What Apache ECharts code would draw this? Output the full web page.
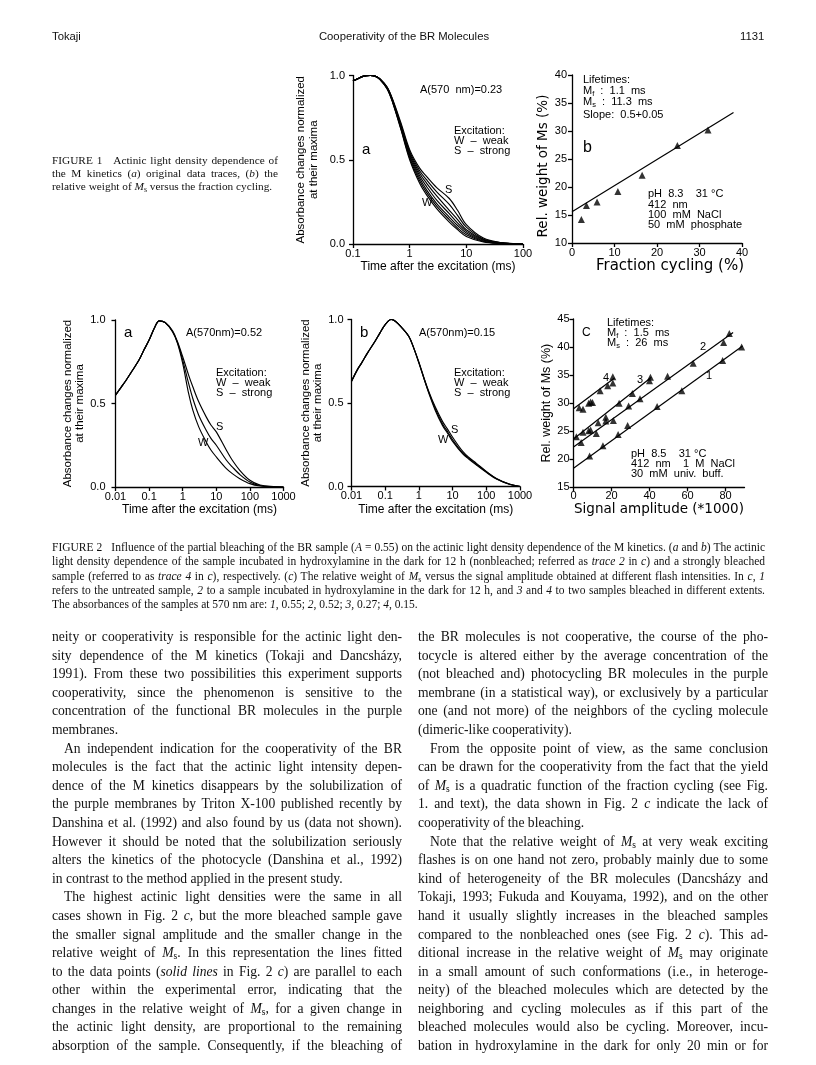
<!DOCTYPE html>
<html>
<head>
<meta charset="utf-8">
<script src="https://cdn.jsdelivr.net/npm/echarts/dist/echarts.min.js"></script>
<style>
  html, body { margin: 0; padding: 0; background: #fff; }
  #page { position: relative; width: 816px; height: 1065px; overflow: hidden; background: #fff; }
  #chart { position: absolute; left: 0; top: 0; width: 816px; height: 1065px; }
  .hdr { position: absolute; font: 11.3px "Liberation Sans", Arial, sans-serif; color: #111; top: 30px; }
  .cap { position: absolute; font-family: "Liberation Serif", "Times New Roman", serif; color: #111; }
  .col { position: absolute; width: 350px; font-family: "Liberation Serif", "Times New Roman", serif; font-size: 13.6px; line-height: 18.6px; color: #111; }
  .j { text-align: justify; text-align-last: justify; white-space: nowrap; }
  .l { text-align: left; white-space: nowrap; }
  .ind { text-indent: 12px; }
  .sb { font-size: 70%; vertical-align: -0.25em; line-height: 0; }
</style>
</head>
<body>
<div id="page">
  <div id="chart"></div>

  <div class="hdr" style="left:52px">Tokaji</div>
  <div class="hdr" style="left:0;width:808px;text-align:center">Cooperativity of the BR Molecules</div>
  <div class="hdr" style="left:740px">1131</div>

  <div class="cap" style="left:52px;top:153.5px;width:226px;font-size:11.3px;line-height:13px">
    <div class="j">FIGURE 1&nbsp;&nbsp; Actinic light density dependence of</div>
    <div class="j">the M kinetics (<i>a</i>) original data traces, (<i>b</i>) the</div>
    <div class="l">relative weight of <i>M</i><span class="sb">s</span> versus the fraction cycling.</div>
  </div>

  <div class="cap" style="left:52px;top:540px;width:713px;font-size:11.5px;line-height:14.3px">
    <div class="j">FIGURE 2&nbsp;&nbsp; Influence of the partial bleaching of the BR sample (<i>A</i> = 0.55) on the actinic light density dependence of the M kinetics. (<i>a</i> and <i>b</i>) The actinic</div>
    <div class="j">light density dependence of the sample incubated in hydroxylamine in the dark for 12 h (nonbleached; referred as <i>trace 2</i> in <i>c</i>) and a strongly bleached</div>
    <div class="j">sample (referred to as <i>trace 4</i> in <i>c</i>), respectively. (<i>c</i>) The relative weight of <i>M</i><span class="sb">s</span> versus the signal amplitude obtained at different flash intensities. In <i>c</i>, <i>1</i></div>
    <div class="j">refers to the untreated sample, <i>2</i> to a sample incubated in hydroxylamine in the dark for 12 h, and <i>3</i> and <i>4</i> to two samples bleached in different extents.</div>
    <div class="l">The absorbances of the samples at 570 nm are: <i>1</i>, 0.55; <i>2</i>, 0.52; <i>3</i>, 0.27; <i>4</i>, 0.15.</div>
  </div>

  <div class="col" style="left:52px;top:628px">
    <div class="j">neity or cooperativity is responsible for the actinic light den-</div>
    <div class="j">sity dependence of the M kinetics (Tokaji and Dancsházy,</div>
    <div class="j">1991). From these two possibilities this experiment supports</div>
    <div class="j">cooperativity, since the phenomenon is sensitive to the</div>
    <div class="j">concentration of the functional BR molecules in the purple</div>
    <div class="l">membranes.</div>
    <div class="j ind">An independent indication for the cooperativity of the BR</div>
    <div class="j">molecules is the fact that the actinic light intensity depen-</div>
    <div class="j">dence of the M kinetics disappears by the solubilization of</div>
    <div class="j">the purple membranes by Triton X-100 published recently by</div>
    <div class="j">Danshina et al. (1992) and also found by us (data not shown).</div>
    <div class="j">However it should be noted that the solubilization seriously</div>
    <div class="j">alters the kinetics of the photocycle (Danshina et al., 1992)</div>
    <div class="l">in contrast to the method applied in the present study.</div>
    <div class="j ind">The highest actinic light densities were the same in all</div>
    <div class="j">cases shown in Fig. 2 <i>c</i>, but the more bleached sample gave</div>
    <div class="j">the smaller signal amplitude and the smaller change in the</div>
    <div class="j">relative weight of <i>M</i><span class="sb">s</span>. In this representation the lines fitted</div>
    <div class="j">to the data points (<i>solid lines</i> in Fig. 2 <i>c</i>) are parallel to each</div>
    <div class="j">other within the experimental error, indicating that the</div>
    <div class="j">changes in the relative weight of <i>M</i><span class="sb">s</span>, for a given change in</div>
    <div class="j">the actinic light density, are proportional to the remaining</div>
    <div class="j">absorption of the sample. Consequently, if the bleaching of</div>
  </div>

  <div class="col" style="left:418px;top:628px">
    <div class="j">the BR molecules is not cooperative, the course of the pho-</div>
    <div class="j">tocycle is altered either by the average concentration of the</div>
    <div class="j">(not bleached and) photocycling BR molecules in the purple</div>
    <div class="j">membrane (in a statistical way), or exclusively by a particular</div>
    <div class="j">one (and not more) of the neighbors of the cycling molecule</div>
    <div class="l">(dimeric-like cooperativity).</div>
    <div class="j ind">From the opposite point of view, as the same conclusion</div>
    <div class="j">can be drawn for the cooperativity from the fact that the yield</div>
    <div class="j">of <i>M</i><span class="sb">s</span> is a quadratic function of the fraction cycling (see Fig.</div>
    <div class="j">1. and text), the data shown in Fig. 2 <i>c</i> indicate the lack of</div>
    <div class="l">cooperativity of the bleaching.</div>
    <div class="j ind">Note that the relative weight of <i>M</i><span class="sb">s</span> at very weak exciting</div>
    <div class="j">flashes is on one hand not zero, probably mainly due to some</div>
    <div class="j">kind of heterogeneity of the BR molecules (Dancsházy and</div>
    <div class="j">Tokaji, 1993; Fukuda and Kouyama, 1992), and on the other</div>
    <div class="j">hand it usually slightly increases in the bleached samples</div>
    <div class="j">compared to the nonbleached ones (see Fig. 2 <i>c</i>). This ad-</div>
    <div class="j">ditional increase in the relative weight of <i>M</i><span class="sb">s</span> may originate</div>
    <div class="j">in a small amount of such conformations (i.e., in heteroge-</div>
    <div class="j">neity) of the bleached molecules which are detected by the</div>
    <div class="j">neighboring and cycling molecules as if this part of the</div>
    <div class="j">bleached molecules would also be cycling. Moreover, incu-</div>
    <div class="j">bation in hydroxylamine in the dark for only 20 min or for</div>
  </div>
</div>

<script>
// squeeze any text line that is wider than its column
document.querySelectorAll('.j, .l').forEach(el => {
  const over = el.scrollWidth - el.clientWidth;
  if (over > 0) {
    el.style.letterSpacing = (-(over + 1) / el.textContent.length).toFixed(3) + 'px';
  }
});

// ---- data ----
// Fig 1a: time axis (ms) and normalized absorbance traces, weak -> strong
const t1a = [0.1, 0.12, 0.15, 0.2, 0.25, 0.3, 0.4, 0.5, 0.7, 1, 1.5, 2, 3, 5, 7, 10, 20, 40, 100];
const fig1aW  = [0.968, 0.98, 0.995, 1.0, 0.995, 0.975, 0.92, 0.84, 0.68, 0.50, 0.36, 0.29, 0.21, 0.13, 0.085, 0.045, 0.012, 0.003, 0];
const fig1a2  = [0.968, 0.98, 0.995, 1.0, 0.995, 0.976, 0.922, 0.843, 0.685, 0.51, 0.375, 0.305, 0.225, 0.145, 0.095, 0.055, 0.015, 0.004, 0];
const fig1a3  = [0.968, 0.98, 0.995, 1.0, 0.995, 0.977, 0.924, 0.846, 0.69, 0.52, 0.39, 0.32, 0.24, 0.16, 0.11, 0.065, 0.018, 0.005, 0];
const fig1a4  = [0.968, 0.98, 0.995, 1.0, 0.995, 0.978, 0.926, 0.849, 0.695, 0.53, 0.405, 0.34, 0.26, 0.18, 0.125, 0.075, 0.022, 0.006, 0];
const fig1a5  = [0.968, 0.98, 0.995, 1.0, 0.995, 0.979, 0.928, 0.852, 0.70, 0.54, 0.42, 0.36, 0.285, 0.20, 0.145, 0.085, 0.026, 0.007, 0];
const fig1a6  = [0.968, 0.98, 0.995, 1.0, 0.995, 0.98, 0.93, 0.855, 0.71, 0.55, 0.435, 0.38, 0.31, 0.235, 0.17, 0.10, 0.03, 0.008, 0];
const fig1aS  = [0.968, 0.98, 0.995, 1.0, 0.995, 0.98, 0.932, 0.86, 0.72, 0.56, 0.45, 0.40, 0.335, 0.27, 0.20, 0.115, 0.035, 0.009, 0];

// Fig 1b: relative weight of Ms vs fraction cycling
const fig1bX = [2.2, 3.4, 5.9, 10.8, 16.5, 24.8, 32.0];
const fig1bY = [14.2, 16.7, 17.3, 19.2, 22.1, 27.4, 30.2];
const fig1bFitX = [0, 38];
const fig1bFitY = [15.6, 33.3];

// Fig 2a / 2b: time axis (ms) and traces W, middle, S
const t2 = [0.01, 0.015, 0.02, 0.03, 0.05, 0.07, 0.1, 0.15, 0.2, 0.3, 0.5, 0.7, 1, 1.5, 2, 3, 5, 7, 10, 20, 30, 50, 100, 200, 500, 1000];
const fig2aW = [0.55, 0.60, 0.635, 0.69, 0.76, 0.82, 0.88, 0.96, 0.995, 0.985, 0.93, 0.86, 0.74, 0.56, 0.46, 0.36, 0.27, 0.22, 0.18, 0.11, 0.08, 0.05, 0.02, 0.006, 0.001, 0];
const fig2aM = [0.55, 0.60, 0.635, 0.69, 0.76, 0.82, 0.88, 0.96, 0.995, 0.985, 0.93, 0.865, 0.76, 0.62, 0.53, 0.43, 0.34, 0.29, 0.25, 0.16, 0.12, 0.075, 0.03, 0.009, 0.001, 0];
const fig2aS = [0.55, 0.60, 0.635, 0.69, 0.76, 0.82, 0.88, 0.96, 0.995, 0.985, 0.935, 0.87, 0.78, 0.67, 0.60, 0.51, 0.42, 0.37, 0.33, 0.22, 0.16, 0.10, 0.04, 0.012, 0.002, 0];
const fig2bW = [0.63, 0.70, 0.74, 0.80, 0.87, 0.92, 0.97, 1.0, 0.99, 0.955, 0.90, 0.83, 0.74, 0.63, 0.555, 0.46, 0.365, 0.32, 0.27, 0.195, 0.165, 0.13, 0.085, 0.045, 0.012, 0];
const fig2bM = [0.63, 0.70, 0.74, 0.80, 0.87, 0.92, 0.97, 1.0, 0.99, 0.955, 0.90, 0.83, 0.74, 0.632, 0.56, 0.47, 0.375, 0.33, 0.28, 0.20, 0.17, 0.135, 0.088, 0.047, 0.013, 0];
const fig2bS = [0.63, 0.70, 0.74, 0.80, 0.87, 0.92, 0.97, 1.0, 0.99, 0.955, 0.90, 0.83, 0.745, 0.635, 0.565, 0.48, 0.39, 0.345, 0.295, 0.21, 0.175, 0.14, 0.09, 0.048, 0.013, 0];

// Fig 2c: relative weight of Ms vs signal amplitude, traces 1-4
const c1X = [8.5, 15.5, 23.5, 28.5, 44, 57, 78.5, 88.5];
const c1Y = [20.6, 22.4, 24.4, 26.0, 29.4, 32.2, 37.6, 40.0];
const c2X = [4, 8, 12, 17, 21, 29, 35, 49.5, 63, 79, 82];
const c2Y = [23.0, 25.1, 24.6, 26.8, 26.9, 29.5, 30.8, 34.8, 37.1, 40.8, 42.4];
const c3X = [1.5, 5, 9, 13, 17, 24, 31, 40, 40.5];
const c3Y = [24.0, 24.8, 25.2, 26.5, 27.5, 30.0, 31.7, 34.0, 34.6];
const c4X = [3, 5, 8, 9, 10, 14, 18, 20.7, 20.7];
const c4Y = [29.2, 28.9, 30.0, 30.2, 30.1, 32.2, 33.1, 33.6, 34.7];
const fit1X = [0, 89], fit1Y = [18.4, 40.2];
const fit2X = [0, 84], fit2Y = [22.2, 42.6];
const fit3X = [0, 41], fit3Y = [23.6, 34.6];
const fit4X = [0, 21.6], fit4Y = [29.0, 34.5];

// ---- chart ----
const FONT = '"Liberation Sans", Arial, sans-serif';
const WIDE = '"DejaVu Sans", "Liberation Sans", sans-serif';
const chart = echarts.init(document.getElementById('chart'));

const pairs = (xs, ys) => xs.map((x, i) => [x, ys[i]]);
const logFmt = v => v >= 1 ? String(Math.round(v)) : String(+v.toPrecision(1));

function axis(grid, extra, labelMargin) {
  return Object.assign({
    gridIndex: grid,
    axisLine: { show: true, onZero: false, lineStyle: { color: '#000', width: 1.3 } },
    axisTick: { show: true, length: 4, lineStyle: { color: '#000', width: 1.3 } },
    axisLabel: { color: '#000', fontSize: 11, fontFamily: FONT, margin: labelMargin },
    splitLine: { show: false },
    nameTextStyle: { color: '#000', fontFamily: FONT, fontSize: 12 }
  }, extra);
}

function traceSeries(grid, xs, ys) {
  return {
    type: 'line', xAxisIndex: grid, yAxisIndex: grid,
    data: pairs(xs, ys), showSymbol: false, smooth: 0.35,
    lineStyle: { color: '#000', width: 1.15 }, silent: true, animation: false
  };
}
function pointSeries(grid, xs, ys) {
  return {
    type: 'scatter', xAxisIndex: grid, yAxisIndex: grid,
    data: pairs(xs, ys), symbol: 'triangle', symbolSize: 7,
    itemStyle: { color: '#000' }, silent: true, animation: false
  };
}
function fitSeries(grid, xs, ys) {
  return {
    type: 'line', xAxisIndex: grid, yAxisIndex: grid,
    data: pairs(xs, ys), showSymbol: false,
    lineStyle: { color: '#000', width: 1.2 }, silent: true, animation: false
  };
}

function txt(x, y, text, size, rich) {
  return {
    type: 'text', x: x, y: y, silent: true,
    style: {
      text: text, fontSize: size || 11, fontFamily: FONT, fill: '#000',
      verticalAlign: 'middle', align: 'left', rich: rich
    }
  };
}
const subRich = {
  n: { fontSize: 11, fontFamily: FONT, fill: '#000' },
  s: { fontSize: 7.5, fontFamily: FONT, fill: '#000', verticalAlign: 'bottom', padding: [5, 0, 0, 0] }
};

const norm = v => v.toFixed(1);
const absName = 'Absorbance changes normalized\nat their maxima';
const timeName = 'Time after the excitation (ms)';
const absNameStyle = { color: '#000', fontFamily: FONT, fontSize: 11.5, lineHeight: 12.5 };

const option = {
  animation: false,
  textStyle: { fontFamily: FONT },
  grid: [
    { left: 353, top: 75.5, width: 170, height: 168.5, outerBoundsMode: 'none' },
    { left: 572, top: 75, width: 170, height: 168, outerBoundsMode: 'none' },
    { left: 115.5, top: 320, width: 168, height: 167, outerBoundsMode: 'none' },
    { left: 351.5, top: 319.5, width: 168.5, height: 167, outerBoundsMode: 'none' },
    { left: 573.5, top: 319, width: 171, height: 168.3, outerBoundsMode: 'none' }
  ],
  xAxis: [
    axis(0, { type: 'log', logBase: 10, min: 0.1, max: 100, splitNumber: 3,
      name: timeName, nameLocation: 'middle', nameGap: 17,
      axisLabel: { color: '#000', fontSize: 11, fontFamily: FONT, margin: 4, formatter: logFmt } }),
    axis(1, { type: 'value', min: 0, max: 40, interval: 10,
      name: 'Fraction cycling (%)', nameLocation: 'middle', nameGap: 12,
      nameTextStyle: { color: '#000', fontFamily: WIDE, fontSize: 15, padding: [0, 0, 0, 26] } }, 4),
    axis(2, { type: 'log', logBase: 10, min: 0.01, max: 1000, splitNumber: 5,
      name: timeName, nameLocation: 'middle', nameGap: 17,
      axisLabel: { color: '#000', fontSize: 11, fontFamily: FONT, margin: 4, formatter: logFmt } }),
    axis(3, { type: 'log', logBase: 10, min: 0.01, max: 1000, splitNumber: 5,
      name: timeName, nameLocation: 'middle', nameGap: 17,
      axisLabel: { color: '#000', fontSize: 11, fontFamily: FONT, margin: 4, formatter: logFmt } }),
    axis(4, { type: 'value', min: 0, max: 90, interval: 20,
      name: 'Signal amplitude (*1000)', nameLocation: 'middle', nameGap: 11,
      nameTextStyle: { color: '#000', fontFamily: WIDE, fontSize: 13.5 },
      axisLabel: { color: '#000', fontSize: 11, fontFamily: FONT, margin: 3, showMaxLabel: false } })
  ],
  yAxis: [
    axis(0, { type: 'value', min: 0, max: 1, interval: 0.5,
      name: absName, nameLocation: 'middle', nameGap: 33, nameRotate: 90, nameTextStyle: absNameStyle,
      axisLabel: { color: '#000', fontSize: 11, fontFamily: FONT, margin: 8, formatter: norm } }),
    axis(1, { type: 'value', min: 10, max: 40, interval: 5,
      name: 'Rel. weight of Ms (%)', nameLocation: 'middle', nameGap: 13, nameRotate: 90,
      nameTextStyle: { color: '#000', fontFamily: WIDE, fontSize: 13.5, padding: [0, 14, 0, 0] } }, 5),
    axis(2, { type: 'value', min: 0, max: 1, interval: 0.5,
      name: absName, nameLocation: 'middle', nameGap: 27, nameRotate: 90, nameTextStyle: absNameStyle,
      axisLabel: { color: '#000', fontSize: 11, fontFamily: FONT, margin: 10, formatter: norm } }),
    axis(3, { type: 'value', min: 0, max: 1, interval: 0.5,
      name: absName, nameLocation: 'middle', nameGap: 27, nameRotate: 90, nameTextStyle: absNameStyle,
      axisLabel: { color: '#000', fontSize: 11, fontFamily: FONT, margin: 8, formatter: norm } }),
    axis(4, { type: 'value', min: 15, max: 45, interval: 5,
      name: 'Rel. weight of Ms (%)', nameLocation: 'middle', nameGap: 15, nameRotate: 90,
      nameTextStyle: { color: '#000', fontFamily: FONT, fontSize: 12.5 } }, 4)
  ],
  series: [
    traceSeries(0, t1a, fig1aW), traceSeries(0, t1a, fig1a2), traceSeries(0, t1a, fig1a3),
    traceSeries(0, t1a, fig1a4), traceSeries(0, t1a, fig1a5), traceSeries(0, t1a, fig1a6),
    traceSeries(0, t1a, fig1aS),
    pointSeries(1, fig1bX, fig1bY), fitSeries(1, fig1bFitX, fig1bFitY),
    traceSeries(2, t2, fig2aW), traceSeries(2, t2, fig2aM), traceSeries(2, t2, fig2aS),
    traceSeries(3, t2, fig2bW), traceSeries(3, t2, fig2bM), traceSeries(3, t2, fig2bS),
    fitSeries(4, fit1X, fit1Y), fitSeries(4, fit2X, fit2Y), fitSeries(4, fit3X, fit3Y), fitSeries(4, fit4X, fit4Y),
    pointSeries(4, c1X, c1Y), pointSeries(4, c2X, c2Y), pointSeries(4, c3X, c3Y), pointSeries(4, c4X, c4Y)
  ],
  graphic: [
    // fig 1a
    txt(420, 90, 'A(570  nm)=0.23', 11),
    txt(362, 150, 'a', 15),
    txt(454, 131, 'Excitation:', 11),
    txt(454, 141, 'W  \u2013  weak', 11),
    txt(454, 151, 'S  \u2013  strong', 11),
    txt(445, 190, 'S', 11),
    txt(422, 203, 'W', 11),
    // fig 1b
    txt(583, 80, 'Lifetimes:', 11),
    txt(583, 91, '{n|M}{s|f}{n|  :  1.1  ms}', 11, subRich),
    txt(583, 102, '{n|M}{s|s}{n|  :  11.3  ms}', 11, subRich),
    txt(583, 115, 'Slope:  0.5+0.05', 11),
    txt(583, 148, 'b', 16),
    txt(648, 194, 'pH  8.3    31 \u00B0C', 11),
    txt(648, 204.5, '412  nm', 11),
    txt(648, 214.5, '100  mM  NaCl', 11),
    txt(648, 224.5, '50  mM  phosphate', 11),
    // fig 2a
    txt(124, 333, 'a', 15),
    txt(186, 333, 'A(570nm)=0.52', 11),
    txt(216, 373, 'Excitation:', 11),
    txt(216, 383, 'W  \u2013  weak', 11),
    txt(216, 393, 'S  \u2013  strong', 11),
    txt(216, 427, 'S', 11),
    txt(198, 443, 'W', 11),
    // fig 2b
    txt(360, 333, 'b', 15),
    txt(419, 333, 'A(570nm)=0.15', 11),
    txt(454, 373, 'Excitation:', 11),
    txt(454, 383, 'W  \u2013  weak', 11),
    txt(454, 393, 'S  \u2013  strong', 11),
    txt(451, 430, 'S', 11),
    txt(438, 440, 'W', 11),
    // fig 2c
    txt(582, 333, 'C', 12),
    txt(607, 323, 'Lifetimes:', 11),
    txt(607, 333, '{n|M}{s|f}{n|  :  1.5  ms}', 11, subRich),
    txt(607, 343, '{n|M}{s|s}{n|  :  26  ms}', 11, subRich),
    txt(700, 347, '2', 11),
    txt(637, 380, '3', 11),
    txt(603, 378, '4', 11),
    txt(706, 376, '1', 11),
    txt(631, 454, 'pH  8.5    31 \u00B0C', 11),
    txt(631, 464, '412  nm    1  M  NaCl', 11),
    txt(631, 473.5, '30  mM  univ.  buff.', 11)
  ]
};
chart.setOption(option);
</script>
</body>
</html>
